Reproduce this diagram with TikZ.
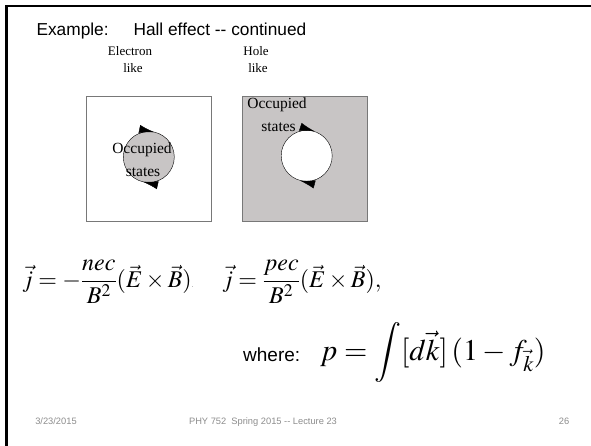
\documentclass[tikz,border=0pt]{standalone}
\usepackage{mathptmx}
\usepackage[no-math]{fontspec}
\setmainfont{Liberation Sans}
\newfontfamily\serifface{Liberation Serif}
\usetikzlibrary{arrows.meta}
\definecolor{fillgray}{RGB}{200,197,197}
\definecolor{edgegray}{RGB}{120,120,120}
\definecolor{footgray}{RGB}{140,140,140}

\begin{document}
\begin{tikzpicture}[x=1pt, y=1pt,
  frame/.style     = {line width=2.4pt, line cap=rect},
  kbox/.style      = {draw=edgegray, semithick, inner sep=0pt,
                      minimum width=125pt, minimum height=125pt},
  fermi/.style     = {draw, thin, circle, inner sep=0pt, minimum size=51pt},
  flow/.style      = {thin, -{Latex[length=15pt,width=8pt]}},
  head/.style      = {anchor=base west, font=\fontsize{17.3}{21}\selectfont},
  tag/.style       = {font=\serifface\fontsize{13}{16}\selectfont, inner sep=0pt},
  inside/.style    = {font=\serifface\fontsize{15.5}{18}\selectfont, inner sep=0pt},
  eq/.style        = {anchor=base west, inner sep=0pt, font=\fontsize{24}{28}\selectfont},
  foot/.style      = {anchor=base, text=footgray, font=\fontsize{9.3}{11}\selectfont},
]
  \useasboundingbox (0,0) rectangle (591,-445);
  \draw[frame] (6.5,-445) -- (6.5,-6) -- (591,-6);

  \node[head] (title) at (33,-35) {Example:};
  \node[head] (topic) at (130,-35) {Hall effect -{}- continued};

  \node[tag] (eword) at (130,-51) {Electron};
  \node[tag] (elike) at (133,-68) {like};
  \node[tag] (hword) at (256,-51) {Hole};
  \node[tag] (hlike) at (258,-68) {like};

  \node[kbox] (ebox) at (148.5,-158.5) {};
  \node[kbox, fill=fillgray] (hbox) at (304.5,-158.5) {};
  \node[fermi, fill=fillgray] (ecirc) at (148.8,-157) {};
  \node[fermi, fill=white] (hcirc) at (306.7,-155.8) {};

  \draw[flow] ([shift={(112:25.5)}]ecirc.center) arc[start angle=112, end angle=78, radius=25.5];
  \draw[flow] ([shift={(292:25.5)}]ecirc.center) arc[start angle=292, end angle=257, radius=25.5];
  \draw[flow] ([shift={(106:25.7)}]hcirc.center) arc[start angle=106, end angle=72, radius=25.7];
  \draw[flow] ([shift={(290:25.7)}]hcirc.center) arc[start angle=290, end angle=255, radius=25.7];

  \node[inside] (eocc) at (142,-150) {Occupied};
  \node[inside] (esta) at (143,-172) {states};
  \node[inside] (hocc) at (277,-105) {Occupied};
  \node[inside] (hsta) at (278.5,-127) {states};

  \node[eq] (jelec) at (22,-287)
    {$\displaystyle \vec{j} = -\frac{nec}{B^2}(\vec{E}\times\vec{B})${\tiny .}};
  \node[eq] (jhole) at (222,-287)
    {$\displaystyle \vec{j} = \frac{pec}{B^2}(\vec{E}\times\vec{B}),$};

  \node[eq] (where) at (243,-361) {\fontsize{19}{23}\selectfont where:};
  \node[eq] (pdef) at (320,-360)
    {\fontsize{30}{35}\selectfont $\displaystyle p = \int [d\vec{k}]\,(1-f_{\vec{k}})$};

  \node[foot] (date) at (56,-424) {3/23/2015};
  \node[foot] (course) at (263,-424) {PHY 752\ \ Spring 2015 -{}- Lecture 23};
  \node[foot] (page) at (564,-424) {26};
\end{tikzpicture}
\end{document}
